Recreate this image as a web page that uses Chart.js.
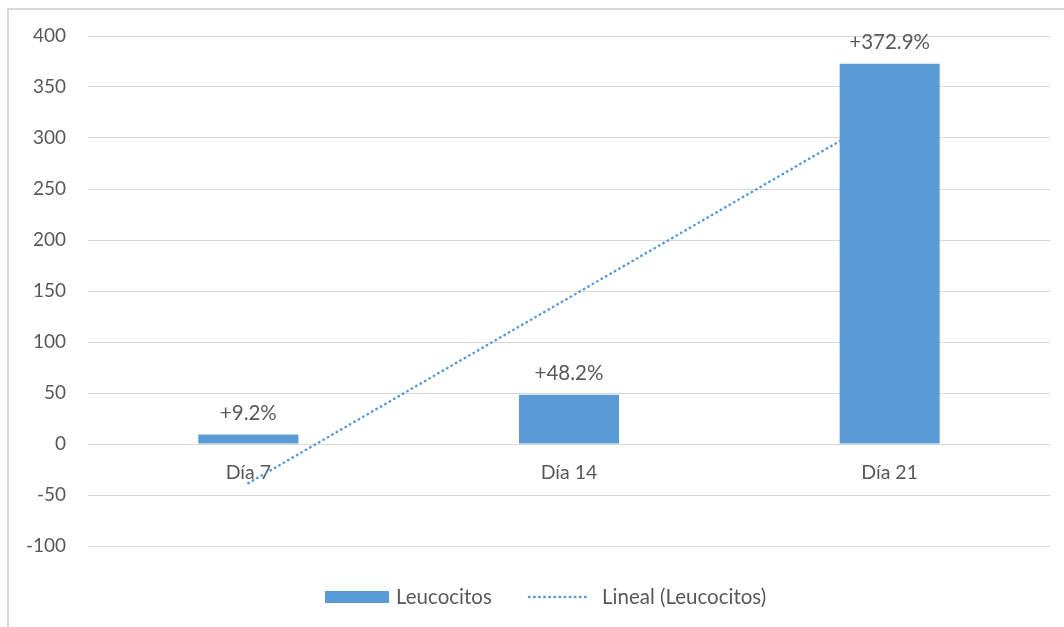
<!DOCTYPE html>
<html lang="es">
<head>
<meta charset="utf-8">
<title>Leucocitos</title>
<script src="https://cdn.jsdelivr.net/npm/chart.js@4.4.0/dist/chart.umd.min.js"></script>
<style>
    html, body { margin: 0; padding: 0; background: #ffffff; }
    #wrap { width: 1064px; height: 627px; }
</style>
</head>
<body>
<div id="wrap"><canvas id="leucoChart" width="1064" height="627"></canvas></div>
<script>
// Variación de leucocitos por día (%)
const dias = ['Día 7', 'Día 14', 'Día 21'];
const leucocitos = [9.2, 48.2, 372.9];
// Línea de tendencia lineal, valores en cada día
const tendencia = [-38.4, 143.4, 325.3];
const yTicks = { min: -100, max: 400, step: 50 };

const azul = '#5B9BD5';
const gris = '#595959';
const fuente = 'Lato, "Open Sans", sans-serif';

// Marco exterior gris (izquierda y arriba)
const marcoPlugin = {
    id: 'marco',
    beforeDraw(chart) {
        const ctx = chart.ctx;
        ctx.save();
        ctx.fillStyle = '#ffffff';
        ctx.fillRect(0, 0, chart.width, chart.height);
        ctx.strokeStyle = '#d9d9d9';
        ctx.lineWidth = 2;
        ctx.beginPath();
        ctx.moveTo(8, chart.height);
        ctx.lineTo(8, 9);
        ctx.lineTo(chart.width, 9);
        ctx.stroke();
        ctx.restore();
    }
};

// Etiquetas "+x%" encima de cada barra
const etiquetasPlugin = {
    id: 'etiquetas',
    afterDatasetsDraw(chart) {
        const ctx = chart.ctx;
        const meta = chart.getDatasetMeta(0);
        ctx.save();
        ctx.font = '20.5px ' + fuente;
        ctx.fillStyle = gris;
        ctx.textAlign = 'center';
        ctx.textBaseline = 'alphabetic';
        meta.data.forEach((bar, i) => {
            ctx.fillText('+' + leucocitos[i] + '%', bar.x, bar.y - 15);
        });
        ctx.restore();
    }
};

// Leyenda inferior: barra y línea punteada
const leyendaPlugin = {
    id: 'leyenda',
    afterDraw(chart) {
        const ctx = chart.ctx;
        const y = 597;
        ctx.save();
        ctx.fillStyle = azul;
        ctx.fillRect(325, y - 6, 64, 12);

        ctx.strokeStyle = azul;
        ctx.lineWidth = 2.5;
        ctx.lineCap = 'round';
        ctx.setLineDash([0.5, 4.6]);
        ctx.beginPath();
        ctx.moveTo(529, y);
        ctx.lineTo(590, y);
        ctx.stroke();

        ctx.setLineDash([]);
        ctx.font = '20.5px ' + fuente;
        ctx.fillStyle = gris;
        ctx.textAlign = 'left';
        ctx.textBaseline = 'middle';
        ctx.fillText(chart.data.datasets[0].label, 396, y);
        ctx.fillText(chart.data.datasets[1].label, 602, y);
        ctx.restore();
    }
};

new Chart(document.getElementById('leucoChart'), {
    type: 'bar',
    data: {
        labels: dias,
        datasets: [{
            label: 'Leucocitos',
            data: leucocitos,
            backgroundColor: azul,
            borderWidth: 0,
            categoryPercentage: 1,
            barPercentage: 0.312,
            order: 1
        }, {
            type: 'line',
            label: 'Lineal (Leucocitos)',
            data: tendencia,
            borderColor: azul,
            borderWidth: 2.5,
            borderDash: [0.5, 4.6],
            borderCapStyle: 'round',
            pointRadius: 0,
            fill: false,
            tension: 0,
            order: 2
        }]
    },
    options: {
        responsive: false,
        animation: false,
        layout: {
            padding: { top: 36, right: 14, bottom: 81, left: 0 }
        },
        plugins: {
            legend: { display: false },
            tooltip: { enabled: false }
        },
        scales: {
            x: {
                position: { y: 0 },
                offset: true,
                grid: { display: false, drawTicks: false },
                border: { display: false },
                ticks: {
                    color: gris,
                    padding: 17,
                    font: { family: fuente, size: 19.5 }
                }
            },
            y: {
                min: yTicks.min,
                max: yTicks.max,
                afterFit(scale) { scale.width = 88; },
                grid: { color: '#d9d9d9', lineWidth: 1, drawTicks: false },
                border: { display: false },
                ticks: {
                    stepSize: yTicks.step,
                    color: gris,
                    padding: 22,
                    font: { family: fuente, size: 19 }
                }
            }
        }
    },
    plugins: [marcoPlugin, etiquetasPlugin, leyendaPlugin]
});
</script>
</body>
</html>
